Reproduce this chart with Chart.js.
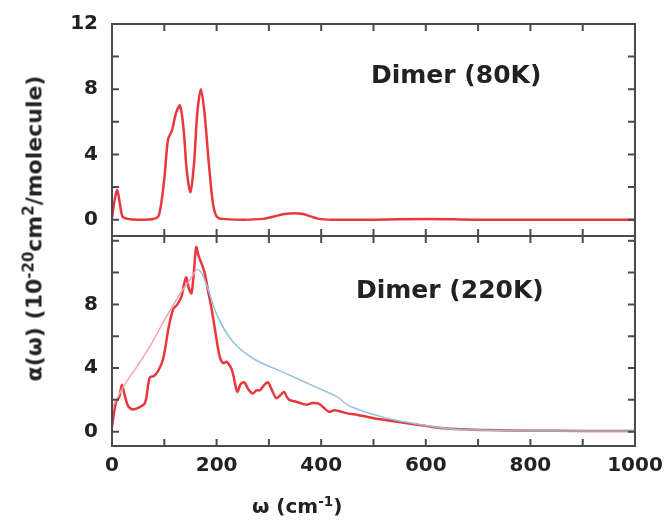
<!DOCTYPE html>
<html>
<head>
<meta charset="utf-8">
<script src="https://cdn.jsdelivr.net/npm/chart.js@4"></script>
<style>
  html, body { margin: 0; padding: 0; background: #fff; }
  #wrap { position: relative; width: 671px; height: 525px; overflow: hidden; font-family: 'DejaVu Sans', sans-serif; font-weight: bold; color: #222; }
  canvas { position: absolute; left: 0; }
  .txt { position: absolute; white-space: nowrap; }
  sup { font-size: 0.68em; vertical-align: 0.55em; line-height: 0; }
</style>
</head>
<body>
<div id="wrap">
  <canvas id="chart-top" width="671" height="264" style="top:-2px"></canvas>
  <canvas id="chart-bottom" width="671" height="315" style="top:210px"></canvas>
  <div class="txt" style="left:371px;top:60px;font-size:25px">Dimer (80K)</div>
  <div class="txt" style="left:356px;top:275px;font-size:25px">Dimer (220K)</div>
  <div class="txt" style="left:-166px;top:216px;width:400px;text-align:center;font-size:22px;transform:rotate(-90deg)">α(ω) (10<sup>-20</sup>cm<sup>2</sup>/molecule)</div>
  <div class="txt" style="left:252px;top:494px;font-size:20px">ω (cm<sup>-1</sup>)</div>
</div>
<script>
// frequency grid (cm^-1) and absorption (10^-20 cm^2/molecule)
const top80X = [0, 5, 10, 15, 20, 30, 50, 80, 90, 100, 107, 115, 122, 130, 137, 143, 150, 157, 163, 170, 177, 185, 193, 200, 210, 250, 290, 310, 330, 350, 365, 380, 395, 420, 500, 600, 700, 1000]
const top80Alpha = [0.1, 1.2, 1.8, 1.0, 0.2, 0.05, 0, 0.05, 0.3, 2.5, 4.9, 5.5, 6.5, 7.0, 5.5, 3.0, 1.7, 3.5, 6.5, 8.0, 6.5, 3.5, 1.0, 0.2, 0.05, 0, 0.05, 0.2, 0.35, 0.4, 0.35, 0.2, 0.05, 0, 0, 0.05, 0, 0]

const red220X = [0, 4, 8, 14, 19, 25, 31, 40, 50, 63, 72, 80, 88, 98, 108, 117, 125, 133, 138, 142, 147, 152, 157, 161, 166, 171, 177, 184, 190, 198, 206, 213, 219, 226, 231, 236, 240, 246, 253, 260, 269, 276, 283, 290, 298, 306, 314, 322, 329, 334, 339, 350, 360, 371, 384, 396, 405, 415, 425, 434, 450, 470, 485, 500, 520, 549, 580, 612, 640, 675, 720, 800, 900, 1000]
const red220Alpha = [0.3, 1.2, 1.9, 2.2, 2.95, 2.2, 1.6, 1.4, 1.5, 1.8, 3.4, 3.5, 3.8, 4.6, 6.5, 7.7, 8.0, 8.5, 9.3, 9.7, 9.0, 8.7, 10.2, 11.6, 11.0, 10.6, 10.0, 8.8, 7.8, 6.2, 4.7, 4.3, 4.4, 4.1, 3.7, 2.9, 2.5, 3.0, 3.1, 2.7, 2.4, 2.6, 2.6, 2.9, 3.1, 2.6, 2.1, 2.3, 2.5, 2.2, 2.0, 1.9, 1.8, 1.7, 1.8, 1.75, 1.5, 1.25, 1.35, 1.3, 1.15, 1.05, 0.95, 0.85, 0.75, 0.6, 0.45, 0.3, 0.2, 0.15, 0.1, 0.06, 0.05, 0.05]

const smooth220X = [0, 25, 50, 75, 100, 125, 150, 165, 180, 200, 230, 270, 330, 390, 430, 455, 520, 580, 640, 700, 800, 1000]
const smooth220Alpha = [1.5, 3.0, 4.2, 5.5, 7.0, 8.4, 9.6, 10.2, 9.3, 7.4, 5.7, 4.6, 3.7, 2.8, 2.2, 1.6, 0.9, 0.5, 0.2, 0.1, 0.05, 0.05]

const xTickLabels = [0, 200, 400, 600, 800, 1000]
const yTickLabels = [0, 4, 8, 12]

const RED = '#e8383f'
const PINK = '#f4a6b0'
const BLUE = '#93c4dd'
const FRAME = '#4a4a4a'
const FONT = { family: 'DejaVu Sans', size: 20, weight: 'bold' }

function points(xs, ys) {
  return xs.map((x, i) => ({ x: x, y: ys[i] }))
}

// box round the plot area with ticks pointing inward on all four sides
const frameTicks = {
  id: 'frameTicks',
  afterDatasetsDraw(chart) {
    const { ctx, chartArea: a, scales } = chart
    ctx.save()
    ctx.strokeStyle = FRAME
    ctx.lineWidth = 2
    ctx.strokeRect(a.left, a.top, a.right - a.left, a.bottom - a.top)
    const len = 7
    ctx.beginPath()
    scales.x.ticks.forEach(t => {
      if (t.value <= scales.x.min || t.value >= scales.x.max) return
      const px = scales.x.getPixelForValue(t.value)
      ctx.moveTo(px, a.top); ctx.lineTo(px, a.top + len)
      ctx.moveTo(px, a.bottom); ctx.lineTo(px, a.bottom - len)
    })
    scales.y.ticks.forEach(t => {
      if (t.value <= scales.y.min || t.value >= scales.y.max) return
      const py = scales.y.getPixelForValue(t.value)
      ctx.moveTo(a.left, py); ctx.lineTo(a.left + len, py)
      ctx.moveTo(a.right, py); ctx.lineTo(a.right - len, py)
    })
    ctx.stroke()
    ctx.restore()
  }
}

function xScale(showLabels) {
  return {
    type: 'linear',
    min: 0,
    max: 1000,
    display: showLabels,
    grid: { display: false, drawTicks: false },
    border: { display: false },
    ticks: {
      stepSize: 100,
      autoSkip: false,
      maxRotation: 0,
      padding: 8,
      color: '#222',
      font: FONT,
      callback: v => xTickLabels.includes(v) ? String(v) : '',
    },
    afterFit: s => { if (s.options.display) s.height = 79 },
  }
}

function yScale(min, max, labels) {
  return {
    type: 'linear',
    min: min,
    max: max,
    grid: { display: false, drawTicks: false },
    border: { display: false },
    ticks: {
      stepSize: 2,
      includeBounds: false,
      autoSkip: false,
      padding: 14,
      color: '#222',
      font: FONT,
      callback: v => labels.includes(v) ? String(v) : '',
    },
    afterFit: s => { s.width = 112 },
  }
}

function baseOptions(padding, scales) {
  return {
    responsive: false,
    animation: false,
    layout: { padding: padding },
    plugins: { legend: { display: false }, tooltip: { enabled: false } },
    elements: { point: { radius: 0 } },
    scales: scales,
  }
}

new Chart(document.getElementById('chart-top'), {
  type: 'line',
  data: {
    datasets: [
      {
        label: 'Dimer (80K)',
        data: points(top80X, top80Alpha),
        borderColor: RED,
        borderWidth: 2.5,
        tension: 0.3,
      },
    ],
  },
  options: baseOptions({ left: 0, right: 36, top: 0, bottom: 0 }, {
    x: xScale(false),
    y: yScale(-1, 12, yTickLabels),
  }),
  plugins: [frameTicks],
})

new Chart(document.getElementById('chart-bottom'), {
  type: 'line',
  data: {
    datasets: [
      {
        label: 'smooth',
        data: points(smooth220X, smooth220Alpha),
        borderColor: BLUE,
        borderWidth: 1.5,
        tension: 0.4,
        segment: { borderColor: c => c.p0.parsed.x < 165 ? PINK : BLUE },
      },
      {
        label: 'Dimer (220K)',
        data: points(red220X, red220Alpha),
        borderColor: RED,
        borderWidth: 2.5,
        tension: 0.3,
      },
    ],
  },
  options: baseOptions({ left: 0, right: 36, top: 0, bottom: 0 }, {
    x: xScale(true),
    y: yScale(-0.9, 12.3, [0, 4, 8]),
  }),
  plugins: [frameTicks],
})
</script>
</body>
</html>
